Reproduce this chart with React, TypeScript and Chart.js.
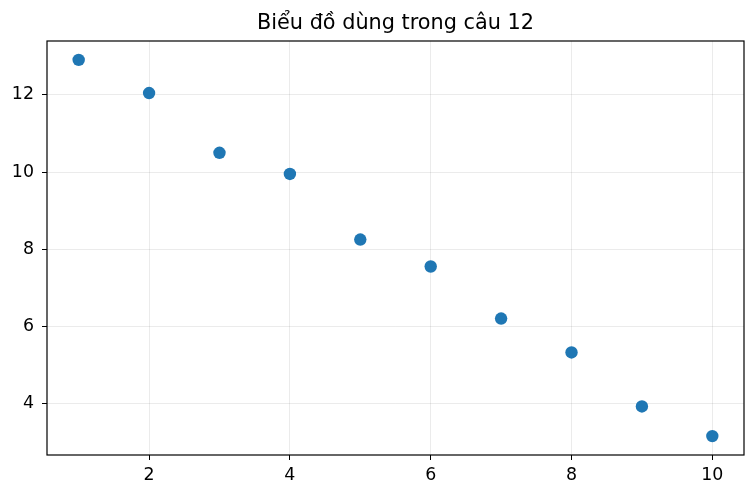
import { useEffect, useRef } from 'react';
import { Chart, registerables, type ChartConfiguration, type Plugin } from 'chart.js';

Chart.register(...registerables);

/* ─── Data ───────────────────────────────────────────────────────────── */

const TITLE = 'Biểu đồ dùng trong câu 12';
const X_VALUES = [1, 2, 3, 4, 5, 6, 7, 8, 9, 10];
const Y_VALUES = [12.91, 12.05, 10.5, 9.95, 8.25, 7.55, 6.2, 5.32, 3.92, 3.15];
const X_TICKS = [2, 4, 6, 8, 10];
const Y_TICKS = [4, 6, 8, 10, 12];

const FONT = "'DejaVu Sans', sans-serif";
const DOT = '#1f77b4';

/* ─── Plugins ────────────────────────────────────────────────────────── */

// matplotlib-style frame round the plot area plus the title above it
const framePlugin: Plugin<'scatter'> = {
  id: 'frame',
  afterDraw(chart) {
    const { ctx, chartArea: a } = chart;
    ctx.save();
    ctx.strokeStyle = '#000';
    ctx.lineWidth = 1.2;
    ctx.strokeRect(a.left, a.top, a.right - a.left, a.bottom - a.top);
    ctx.fillStyle = '#000';
    ctx.font = `20.8px ${FONT}`;
    ctx.textAlign = 'center';
    ctx.textBaseline = 'alphabetic';
    ctx.fillText(TITLE, (a.left + a.right) / 2, 29);
    ctx.restore();
  },
};

/* ─── Component ──────────────────────────────────────────────────────── */

export default function App() {
  const canvasRef = useRef<HTMLCanvasElement>(null);

  useEffect(() => {
    document.body.style.margin = '0';
    if (!canvasRef.current) return;

    const config: ChartConfiguration<'scatter'> = {
      type: 'scatter',
      data: {
        datasets: [
          {
            data: X_VALUES.map((x, i) => ({ x, y: Y_VALUES[i] })),
            backgroundColor: DOT,
            borderColor: DOT,
            pointRadius: 6.2,
            pointHoverRadius: 6.2,
            borderWidth: 0,
          },
        ],
      },
      options: {
        animation: false,
        responsive: true,
        maintainAspectRatio: false,
        layout: { padding: { top: 41, right: 12, bottom: 0, left: 0 } },
        plugins: { legend: { display: false }, tooltip: { enabled: false }, title: { display: false } },
        scales: {
          x: {
            type: 'linear',
            min: 0.55,
            max: 10.45,
            afterBuildTicks: (s) => { s.ticks = X_TICKS.map((value) => ({ value })); },
            afterFit: (s) => { s.height = 43; },
            border: { display: false },
            grid: { color: 'rgba(0,0,0,0.08)', tickColor: '#000', tickLength: 5, drawTicks: true },
            ticks: { font: { family: FONT, size: 17.4 }, color: '#000', padding: 5, maxRotation: 0 },
          },
          y: {
            type: 'linear',
            min: 2.66,
            max: 13.4,
            afterBuildTicks: (s) => { s.ticks = Y_TICKS.map((value) => ({ value })); },
            afterFit: (s) => { s.width = 47; },
            border: { display: false },
            grid: { color: 'rgba(0,0,0,0.08)', tickColor: '#000', tickLength: 5, drawTicks: true },
            ticks: { font: { family: FONT, size: 17.4 }, color: '#000', padding: 8 },
          },
        },
      },
      plugins: [framePlugin],
    };

    const chart = new Chart(canvasRef.current, config);
    return () => { chart.destroy(); };
  }, []);

  return (
    <div style={{ position: 'relative', width: 756, height: 498 }}>
      <canvas ref={canvasRef} />
    </div>
  );
}
